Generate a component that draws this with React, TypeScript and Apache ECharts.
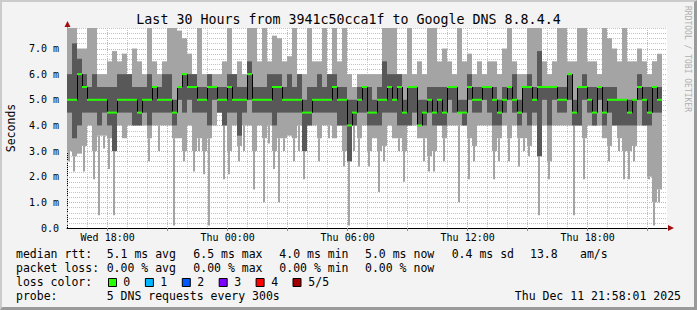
import React, { useEffect, useRef } from "react";
import * as echarts from "echarts";

// ---------- time / axis constants ----------
const START_HOUR = 15 + 58 / 60 + 1 / 3600; // Wed 15:58:01 (hours since Wed 00:00)
const SPAN_HOURS = 30;
const STEP_HOURS = 0.25; // one smoke column every 15 minutes
const Y_MAX = 7.8; // ms

// ---------- data (ms), one value per 15-minute column ----------
const pingMax = [
  7.8, 7.8, 7.0, 7.0, 7.8, 7.8, 6.0, 6.0, 6.5, 6.9, 6.5, 6.8, 6.0, 7.0, 6.5, 6.0, 7.8, 6.5, 6.0, 6.5, 7.8, 7.8, 7.7, 7.4, 6.8, 6.0, 7.8, 6.0, 6.0, 6.0,
  6.0, 6.5, 7.8, 6.0, 6.5, 6.0, 7.8, 7.8, 6.5, 7.8, 6.5, 7.5, 7.4, 6.5, 6.7, 7.8, 6.0, 6.0, 7.8, 6.5, 6.5, 7.8, 6.0, 7.8, 6.5, 7.8, 6.0, 5.5, 6.0, 6.0,
  6.0, 6.0, 6.0, 7.8, 7.8, 7.8, 6.0, 6.0, 7.8, 6.0, 6.5, 6.0, 7.8, 7.8, 6.5, 7.0, 6.5, 6.0, 7.8, 6.5, 6.8, 6.0, 6.5, 6.0, 6.5, 6.5, 6.0, 7.0, 7.8, 6.5,
  6.0, 6.0, 7.8, 7.8, 7.8, 6.5, 6.0, 6.5, 7.8, 7.8, 6.5, 6.5, 7.8, 7.8, 6.5, 6.5, 6.0, 7.8, 7.4, 7.0, 6.5, 7.8, 6.5, 6.5, 7.0, 6.5, 6.0, 6.5, 6.8,
];
const ping4 = [
  6.0, 7.2, 6.6, 6.0, 5.5, 6.0, 5.5, 5.5, 5.5, 5.5, 6.0, 6.0, 6.0, 5.5, 5.5, 5.5, 6.0, 5.5, 5.5, 6.0, 6.0, 5.0, 5.5, 6.0, 6.0, 6.0, 5.5, 5.5, 6.0, 5.5,
  5.5, 5.5, 6.0, 6.0, 5.5, 5.5, 6.5, 5.5, 5.5, 5.5, 6.0, 6.0, 6.0, 5.5, 6.0, 5.5, 6.0, 5.0, 5.5, 5.5, 6.0, 5.5, 6.0, 6.0, 5.5, 5.5, 5.0, 5.0, 5.5, 5.5,
  5.5, 5.0, 5.5, 6.5, 6.0, 6.0, 6.0, 5.0, 5.5, 5.5, 5.0, 5.0, 5.5, 5.5, 5.5, 5.5, 5.5, 5.5, 5.0, 5.0, 6.0, 5.5, 5.5, 5.5, 5.5, 5.5, 5.0, 5.5, 5.5, 6.0,
  5.0, 5.5, 6.0, 5.5, 6.9, 5.5, 5.5, 5.5, 5.5, 5.5, 6.0, 5.0, 5.5, 6.0, 5.5, 5.5, 5.5, 5.5, 5.5, 5.5, 5.0, 5.0, 5.0, 5.0, 6.0, 5.5, 5.5, 5.5, 5.5,
];
const medianRtt = [
  5.0, 5.0, 6.0, 5.5, 5.0, 5.0, 5.0, 5.0, 4.5, 4.5, 5.0, 5.0, 5.0, 5.0, 4.5, 5.0, 5.0, 5.5, 5.0, 5.0, 5.0, 4.5, 5.5, 6.0, 5.5, 5.5, 5.0, 5.0, 5.5, 5.5,
  5.0, 5.0, 5.5, 5.0, 5.0, 5.0, 6.0, 5.0, 5.0, 5.0, 5.0, 5.5, 5.5, 5.0, 5.0, 5.0, 5.0, 4.5, 4.5, 5.0, 5.0, 5.0, 5.0, 5.5, 5.0, 5.0, 4.0, 4.5, 5.0, 5.5,
  4.5, 4.5, 5.0, 5.0, 5.5, 5.0, 5.5, 4.5, 5.5, 5.5, 4.0, 4.5, 5.0, 4.5, 5.0, 4.5, 5.5, 5.5, 4.5, 4.5, 5.5, 5.0, 5.0, 5.5, 5.5, 5.0, 4.5, 5.0, 5.5, 5.0,
  4.5, 5.5, 5.5, 5.0, 5.5, 5.5, 5.5, 5.5, 5.0, 5.0, 6.0, 4.5, 5.5, 5.5, 5.0, 4.5, 5.5, 4.5, 5.0, 5.0, 5.0, 5.0, 4.5, 5.0, 5.5, 5.0, 4.5, 5.5, 5.0,
];
const ping2 = [
  4.5, 3.5, 4.0, 4.5, 4.5, 4.5, 4.0, 4.5, 4.0, 3.0, 4.5, 4.5, 4.5, 4.0, 4.0, 4.5, 4.0, 4.5, 4.5, 4.5, 4.5, 4.0, 5.0, 4.5, 5.0, 4.5, 4.5, 4.5, 4.0, 5.0,
  4.5, 4.0, 4.5, 4.5, 3.6, 4.5, 5.0, 4.5, 4.5, 4.5, 4.5, 4.0, 4.5, 4.5, 4.5, 4.5, 4.5, 3.0, 4.0, 4.5, 4.5, 4.5, 4.5, 4.5, 4.0, 4.0, 2.6, 4.0, 4.5, 4.5,
  4.0, 4.0, 4.0, 4.5, 4.5, 4.5, 4.0, 4.0, 4.0, 4.5, 4.0, 4.0, 4.5, 4.0, 4.0, 4.0, 5.0, 4.5, 4.5, 4.0, 5.0, 4.5, 4.5, 5.0, 4.5, 4.0, 4.0, 4.5, 5.0, 4.5,
  4.0, 4.5, 4.0, 4.5, 2.8, 5.0, 4.0, 5.0, 4.5, 4.5, 5.0, 4.0, 4.0, 5.0, 4.5, 4.0, 5.0, 4.0, 4.5, 4.0, 4.0, 4.0, 4.0, 4.0, 5.0, 4.0, 4.0, 4.5, 4.5,
];
// lowest ping over most of the 15-minute column
const bodyMin = [
  3.0, 2.8, 2.9, 3.2, 4.0, 3.0, 3.6, 3.6, 3.5, 3.0, 4.0, 3.5, 4.0, 4.0, 4.0, 4.0, 3.5, 4.0, 4.0, 4.0, 4.0, 3.5, 3.5, 3.0, 4.0, 3.0, 3.5, 3.0, 3.5, 4.0,
  4.5, 4.0, 3.0, 4.0, 3.2, 4.0, 4.0, 3.0, 4.0, 3.5, 4.0, 3.0, 3.5, 3.5, 3.6, 3.5, 4.0, 3.0, 4.0, 4.0, 3.5, 4.0, 4.0, 3.5, 4.0, 3.0, 2.6, 4.0, 3.5, 4.0,
  3.0, 3.5, 3.0, 3.2, 4.0, 3.5, 3.5, 3.0, 4.0, 4.0, 3.5, 3.5, 2.8, 3.0, 4.0, 3.5, 4.0, 4.0, 4.0, 4.0, 3.5, 3.2, 4.0, 4.0, 4.0, 3.0, 3.5, 4.0, 3.5, 4.0,
  3.5, 3.5, 3.2, 4.0, 2.8, 4.0, 2.6, 4.0, 4.0, 4.0, 4.0, 4.0, 4.0, 3.5, 4.0, 4.0, 4.0, 3.5, 3.2, 4.0, 3.5, 3.0, 3.0, 3.2, 4.0, 4.0, 2.0, 1.0, 1.5,
];
// deepest single 5-minute minimum inside the column (thin spike)
const spikeMin = [
  2.6, 2.2, 2.9, 2.2, 4.0, 1.9, 0.5, 3.1, 2.3, 0.5, 4.0, 3.5, 4.0, 4.0, 4.0, 4.0, 2.6, 4.0, 3.0, 4.0, 4.0, 0.1, 3.5, 2.6, 4.0, 2.2, 3.0, 2.1, 0.1, 4.0,
  4.5, 1.9, 2.1, 4.0, 2.6, 3.0, 4.0, 1.5, 4.0, 1.0, 3.3, 2.3, 1.0, 3.0, 3.6, 2.6, 3.0, 1.9, 4.0, 4.0, 2.6, 4.0, 3.5, 3.5, 4.0, 2.4, 0.1, 3.0, 2.4, 4.0,
  2.4, 3.5, 1.4, 2.6, 4.0, 3.5, 3.0, 1.8, 4.0, 4.0, 3.5, 2.6, 2.2, 2.2, 4.0, 2.6, 4.0, 4.0, 1.0, 4.0, 1.9, 2.6, 4.0, 4.0, 4.0, 1.9, 2.6, 4.0, 2.6, 4.0,
  2.4, 3.0, 2.8, 4.0, 0.5, 4.0, 1.9, 4.0, 4.0, 4.0, 4.0, 0.5, 4.0, 1.9, 4.0, 4.0, 4.0, 3.5, 2.6, 4.0, 3.0, 1.9, 1.9, 2.6, 4.0, 4.0, 1.9, 0.1, 1.0,
];

// ---------- ticks / grid ----------
const labelHours = [18, 24, 30, 36, 42];
const tickLabels = ["Wed 18:00", "Thu 00:00", "Thu 06:00", "Thu 12:00", "Thu 18:00"];
const hourLines = [16, 17, 18, 19, 20, 21, 22, 23, 24, 25, 26, 27, 28, 29, 30, 31, 32, 33, 34, 35, 36, 37, 38, 39, 40, 41, 42, 43, 44, 45];
const majorHours = [18, 21, 24, 27, 30, 33, 36, 39, 42, 45];
const yTickValues = [0, 1, 2, 3, 4, 5, 6, 7];
const yMinorValues = [
  0.2, 0.4, 0.6, 0.8, 1.2, 1.4, 1.6, 1.8, 2.2, 2.4, 2.6, 2.8, 3.2, 3.4, 3.6, 3.8,
  4.2, 4.4, 4.6, 4.8, 5.2, 5.4, 5.6, 5.8, 6.2, 6.4, 6.6, 6.8, 7.2, 7.4, 7.6, 7.8,
];

// ---------- legend texts ----------
const titleText = "Last 30 Hours from 3941c50cca1f to Google DNS 8.8.4.4";
const rttTexts = ["5.1 ms avg", "6.5 ms max", "4.0 ms min", "5.0 ms now", "0.4 ms sd"];
const lossTexts = ["0.00 % avg", "0.00 % max", "0.00 % min", "0.00 % now"];
const lossLabels = ["0", "1", "2", "3", "4", "5/5"];
const lossColors = ["#26ff00", "#00b8ff", "#0059ff", "#7e00ff", "#ff0000", "#a10000"];
const probeText = "5 DNS requests every 300s";
const dateText = "Thu Dec 11 21:58:01 2025";

const MONO = "'DejaVu Sans Mono', monospace";
const LIGHT = "#a4a4a4";
const DARK = "#585858";
const MED_GREEN = "#26ff00";

const colX = [106.7, 193.3, 279.3, 365, 451.7];

function txt(text: string, x: number, y: number, opts: any = {}) {
  return {
    type: "text",
    x,
    y,
    rotation: opts.rotation || 0,
    silent: true,
    style: {
      text,
      fill: opts.fill || "#000",
      fontSize: opts.fontSize || 11.5,
      fontFamily: MONO,
      align: opts.align || "left",
      textAlign: opts.align || "left",
      verticalAlign: "middle",
      textVerticalAlign: "middle",
    },
  };
}

export default function App() {
  const ref = useRef<HTMLDivElement>(null);

  useEffect(() => {
    document.body.style.margin = "0";
    if (!ref.current) return;
    const chart = echarts.init(ref.current, undefined, { renderer: "svg", width: 697, height: 310 });

    const smokeData = spikeMin.map((sp, i) => [
      START_HOUR + i * STEP_HOURS,
      START_HOUR + (i + 1) * STEP_HOURS,
      sp,
      bodyMin[i],
      ping2[i],
      medianRtt[i],
      ping4[i],
      pingMax[i],
      i > 0 ? medianRtt[i - 1] : medianRtt[i],
    ]);

    const gridData: any[] = [];
    hourLines.forEach((h) => gridData.push([h, 0, majorHours.indexOf(h) >= 0 ? 1 : 0, 0]));
    yMinorValues.forEach((v) => gridData.push([START_HOUR, v, 0, 1]));
    yTickValues.forEach((v) => { if (v > 0) gridData.push([START_HOUR, v, 1, 1]); });

    const graphic: any[] = [];
    // frame bevel
    graphic.push({ type: "polygon", silent: true, shape: { points: [[0, 0], [697, 0], [694, 2], [2, 2], [2, 307], [0, 310]] }, style: { fill: "#cbcbcb" } });
    graphic.push({ type: "polygon", silent: true, shape: { points: [[697, 0], [697, 310], [0, 310], [2, 307], [694, 307], [694, 2]] }, style: { fill: "#9a9a9a" } });
    // axis arrows
    graphic.push({ type: "polygon", silent: true, shape: { points: [[64.5, 27], [70.5, 27], [67.5, 21]] }, style: { fill: "#a01010" } });
    graphic.push({ type: "polygon", silent: true, shape: { points: [[668, 225], [668, 231], [674, 228]] }, style: { fill: "#a01010" } });
    // title
    graphic.push(txt(titleText, 348.5, 19, { fontSize: 13.3, align: "center" }));
    // y axis name
    graphic.push(txt("Seconds", 10.5, 128, { fontSize: 11.5, align: "center", rotation: Math.PI / 2 }));
    // watermark
    graphic.push(txt("RRDTOOL / TOBI OETIKER", 687, 59, { fontSize: 8, align: "center", rotation: -Math.PI / 2, fill: "#b0b0b0" }));
    // legend rows
    graphic.push(txt("median rtt:", 16, 254));
    rttTexts.forEach((t, i) => graphic.push(txt(t, colX[i], 254)));
    graphic.push(txt("13.8", 530, 254));
    graphic.push(txt("am/s", 580, 254));
    graphic.push(txt("packet loss:", 16, 268));
    lossTexts.forEach((t, i) => graphic.push(txt(t, colX[i], 268)));
    graphic.push(txt("loss color:", 16, 282));
    lossLabels.forEach((l, i) => {
      graphic.push({ type: "rect", silent: true, shape: { x: 108.5 + 36.9 * i, y: 278.5, width: 8, height: 8 }, style: { fill: lossColors[i], stroke: "#000", lineWidth: 1 } });
      graphic.push(txt(l, 123.3 + 37 * i, 282));
    });
    graphic.push(txt("probe:", 16, 296));
    graphic.push(txt(probeText, 106.7, 296));
    graphic.push(txt(dateText, 681, 296, { align: "right" }));

    const option: any = {
      animation: false,
      backgroundColor: "#f3f3f3",
      grid: { left: 67, right: 30, top: 28, bottom: 82, show: true, backgroundColor: "#ffffff", borderWidth: 0 },
      xAxis: {
        type: "value",
        min: START_HOUR,
        max: START_HOUR + SPAN_HOURS,
        splitLine: { show: false },
        axisLine: { show: true, onZero: false, lineStyle: { color: "#000", width: 1 } },
        axisTick: { show: true, customValues: majorHours, length: 3, lineStyle: { color: "#ff6060" } },
        axisLabel: {
          customValues: labelHours,
          formatter: (v: number) => tickLabels[labelHours.indexOf(Math.round(v))] || "",
          fontFamily: MONO,
          fontSize: 10,
          color: "#000",
          margin: 4,
        },
      },
      yAxis: {
        type: "value",
        min: 0,
        max: Y_MAX,
        splitLine: { show: false },
        axisLine: { show: true, onZero: false, lineStyle: { color: "#000", width: 1 } },
        axisTick: { show: false },
        axisLabel: {
          customValues: yTickValues,
          formatter: (v: number) => (v === 0 ? "0.0" : v.toFixed(1) + " m"),
          fontFamily: MONO,
          fontSize: 10,
          color: "#000",
          margin: 8,
        },
      },
      series: [
        {
          type: "custom",
          z: 1,
          silent: true,
          clip: true,
          data: gridData,
          encode: { x: 0, y: 1 },
          renderItem: (params: any, api: any) => {
            const cs = params.coordSys;
            const major = api.value(2) === 1;
            const horiz = api.value(3) === 1;
            const stroke = major ? "#f4a0a0" : "#c4c4c4";
            if (horiz) {
              const y = Math.round(api.coord([START_HOUR, api.value(1)])[1]) + 0.5;
              return { type: "line", shape: { x1: cs.x, y1: y, x2: cs.x + cs.width, y2: y }, style: { stroke, lineWidth: 1, lineDash: [1, 1] } };
            }
            const x = Math.floor(api.coord([api.value(0), 0])[0]) + 0.5;
            return { type: "line", shape: { x1: x, y1: cs.y, x2: x, y2: cs.y + cs.height }, style: { stroke, lineWidth: 1, lineDash: [1, 1] } };
          },
        },
        {
          type: "custom",
          z: 2,
          silent: true,
          clip: true,
          data: smokeData,
          encode: { x: [0, 1], y: [2, 7] },
          renderItem: (params: any, api: any) => {
            const t0 = api.value(0);
            const t1 = api.value(1);
            const xa = api.coord([t0, 0])[0];
            const xb = api.coord([t1, 0])[0];
            const yOf = (v: number) => api.coord([t0, v])[1];
            const ySp = yOf(api.value(2));
            const yBody = yOf(api.value(3));
            const yQ2 = yOf(api.value(4));
            const yMd = yOf(api.value(5));
            const yQ4 = yOf(api.value(6));
            const yMx = yOf(api.value(7));
            const yPrev = yOf(api.value(8));
            const w = xb - xa;
            const sw = Math.max(1, Math.round(w / 3));
            const children: any[] = [
              { type: "rect", shape: { x: xa, y: yMx, width: w, height: yBody - yMx }, style: { fill: LIGHT } },
            ];
            if (api.value(2) < api.value(3)) {
              children.push({ type: "rect", shape: { x: xa + Math.floor((w - sw) / 2), y: yBody, width: sw, height: ySp - yBody }, style: { fill: LIGHT } });
            }
            children.push({ type: "rect", shape: { x: xa, y: yQ4, width: w, height: yQ2 - yQ4 }, style: { fill: DARK } });
            if (api.value(8) !== api.value(5)) {
              children.push({ type: "line", shape: { x1: xa + 0.5, y1: yPrev, x2: xa + 0.5, y2: yMd }, style: { stroke: "#000", lineWidth: 1 } });
            }
            children.push({ type: "rect", shape: { x: xa, y: yMd - 1, width: w, height: 2 }, style: { fill: MED_GREEN } });
            return { type: "group", children };
          },
        },
      ],
      graphic,
    };

    chart.setOption(option);
    return () => chart.dispose();
  }, []);

  return <div ref={ref} style={{ width: 697, height: 310 }} />;
}
